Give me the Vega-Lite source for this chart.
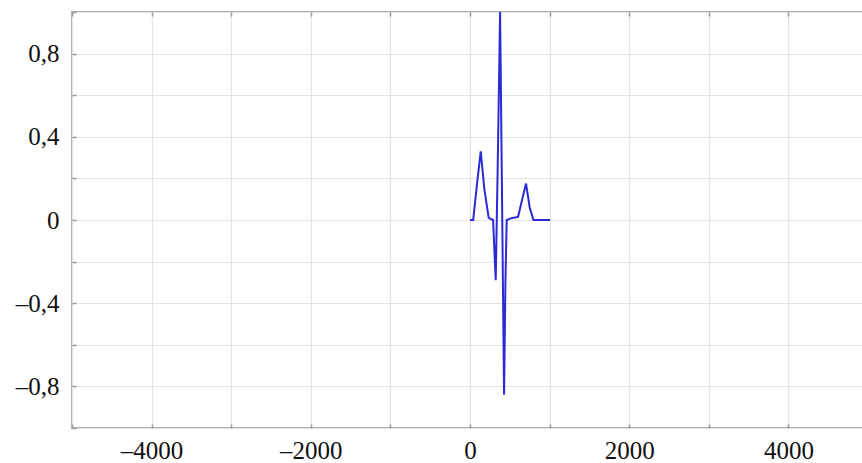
{
  "$schema": "https://vega.github.io/schema/vega-lite/v6.json",
  "autosize": "none",
  "padding": {"left": 72, "top": 12, "right": 0, "bottom": 35},
  "width": 796,
  "height": 416,
  "background": "white",
  "config": {
    "view": {"stroke": "#b0b0b0", "strokeWidth": 2},
    "axis": {
      "labelFont": "Liberation Serif",
      "labelFontSize": 25,
      "labelColor": "#111111",
      "gridColor": "#e3e3e3",
      "gridWidth": 1.2,
      "domain": false,
      "tickColor": "#999999",
      "tickSize": -4,
      "tickWidth": 1.5,
      "title": null
    }
  },
  "data": {
    "values": [
      {"t": 0, "v": 0},
      {"t": 40, "v": 0.0},
      {"t": 90, "v": 0.18},
      {"t": 135, "v": 0.33},
      {"t": 180, "v": 0.15},
      {"t": 235, "v": 0.01},
      {"t": 290, "v": 0.0},
      {"t": 323, "v": -0.29},
      {"t": 350, "v": 0.3},
      {"t": 378, "v": 1.0},
      {"t": 400, "v": 0.2},
      {"t": 428, "v": -0.84},
      {"t": 445, "v": -0.3},
      {"t": 461, "v": 0.0},
      {"t": 530, "v": 0.01},
      {"t": 604, "v": 0.015},
      {"t": 650, "v": 0.09},
      {"t": 704, "v": 0.175},
      {"t": 750, "v": 0.06},
      {"t": 797, "v": 0.0},
      {"t": 1006, "v": 0.0}
    ]
  },
  "layer": [
    {
      "mark": {"type": "line", "color": "#2a2ad6", "strokeWidth": 2, "clip": true},
      "encoding": {
        "x": {
          "field": "t", "type": "quantitative",
          "scale": {"domain": [-5000, 5000], "nice": false, "zero": false},
          "axis": {
            "orient": "bottom",
            "values": [-5000, -4000, -3000, -2000, -1000, 0, 1000, 2000, 3000, 4000, 5000],
            "labelExpr": "datum.value % 2000 == 0 ? (datum.value < 0 ? '–' : '') + format(abs(datum.value), 'd') : ''",
            "labelPadding": 14,
            "labelFlush": false
          }
        },
        "y": {
          "field": "v", "type": "quantitative",
          "scale": {"domain": [-1, 1], "nice": false},
          "axis": {
            "orient": "left",
            "values": [-1, -0.8, -0.6, -0.4, -0.2, 0, 0.2, 0.4, 0.6, 0.8, 1],
            "labelExpr": "round(datum.value * 10) % 4 == 0 ? (datum.value == 0 ? '0' : (datum.value < 0 ? '–' : '') + replace(format(abs(datum.value), '.1f'), '.', ',')) : ''",
            "labelPadding": 17,
            "labelFlush": false
          }
        }
      }
    },
    {
      "mark": {"type": "line", "opacity": 0},
      "encoding": {
        "x": {
          "field": "t", "type": "quantitative",
          "axis": {
            "orient": "top",
            "values": [-5000, -4000, -3000, -2000, -1000, 0, 1000, 2000, 3000, 4000, 5000],
            "labels": false,
            "grid": false
          }
        },
        "y": {"field": "v", "type": "quantitative"}
      }
    }
  ],
  "resolve": {"axis": {"x": "independent"}}
}
